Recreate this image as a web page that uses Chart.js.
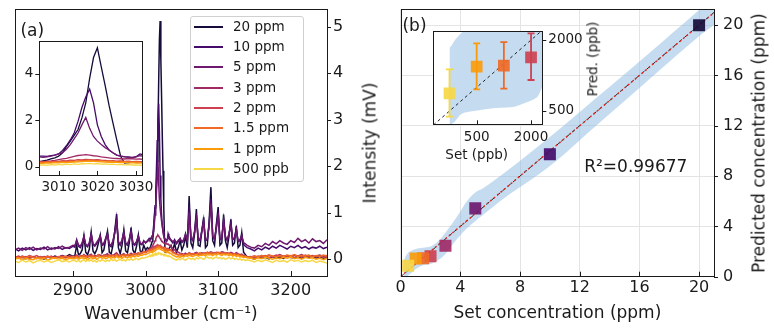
<!DOCTYPE html>
<html><head><meta charset="utf-8">
<script src="https://cdn.jsdelivr.net/npm/chart.js@4.4.1/dist/chart.umd.min.js"></script>
<style>
body{margin:0;background:#fff;}
#wrap{position:relative;width:774px;height:332px;overflow:hidden;font-family:'DejaVu Sans',sans-serif;color:#1a1a1a;background:#fff;}
canvas{position:absolute;}
.t{position:absolute;white-space:nowrap;line-height:1;transform:translate(-50%,-50%);}
.rot{transform:translate(-50%,-50%) rotate(-90deg);}
#legend{position:absolute;left:190px;top:16px;width:112px;height:164px;border:1px solid #d0d0d0;border-radius:3px;background:rgba(255,255,255,0.85);}
.lrow{position:absolute;left:0;height:0;width:100%;}
.lline{position:absolute;left:3px;top:-1px;width:29px;height:2px;}
.ltxt{position:absolute;left:42px;top:0;transform:translateY(-50%);font-size:13.5px;line-height:1;white-space:nowrap;}
</style></head><body><div id="wrap">
<canvas id="cA" width="380" height="332" style="left:0;top:0"></canvas>
<canvas id="cB" width="394" height="332" style="left:380px;top:0"></canvas>
<canvas id="cAi" width="141" height="170" style="left:14px;top:30px"></canvas>
<canvas id="cBi" width="160" height="150" style="left:425px;top:20px"></canvas>
<div id="legend"></div>
<div class="t" style="left:32.3px;top:30px;font-size:17px">(a)</div>
<div class="t" style="left:414.5px;top:25px;font-size:17px">(b)</div>
<div class="t rot" style="left:370px;top:143px;font-size:17px">Intensity (mV)</div>
<div class="t rot" style="left:758.5px;top:143px;font-size:17px">Predicted concentration (ppm)</div>
<div class="t" style="left:635.8px;top:166px;font-size:17px">R²=0.99677</div>
<div class="t" style="left:476.7px;top:155px;font-size:13.5px">Set (ppb)</div>
<div class="t rot" style="left:593.3px;top:58.5px;font-size:13.5px">Pred. (ppb)</div>
</div>
<script>
// ---------- DATA ----------
const seriesLabels = ['20 ppm','10 ppm','5 ppm','3 ppm','2 ppm','1.5 ppm','1 ppm','500 ppb'];
const seriesColors = ['#160b39','#440b6a','#6e196e','#a02a66','#cd4150','#ee6a25','#fb9b0a','#f6d746'];

const wavenumber = [
 2820,2825,2830,2835,2840,2845,2850,2855,2860,2865,2870,2875,2880,2885,2890,2895,2900,
 2902.5,2905,2907.5,2910,2912.5,2915,2917.5,2920,2922.5,2925,2927.5,2930,2932.5,2935,2937.5,2940,2942.5,2945,2947.5,2950,2952.5,2955,2957.5,2960,2962.5,2965,2967.5,2970,2972.5,2975,2977.5,2980,2982.5,2985,2987.5,2990,2992.5,2995,2997.5,3000,3002.5,3005,
 3006,3007,3008,3009,3010,3011,3012,3013,3014,3015,3016,3017,3018,3019,3020,3021,3022,3023,3024,3025,3026,3027,3028,3029,3030,3031,3032,
 3035,3037.5,3040,3042.5,3045,3047.5,3050,3052.5,3055,3057.5,3060,3062.5,3065,3067.5,3070,3072.5,3075,3077.5,3080,3082.5,3085,3087.5,3090,3092.5,3095,3097.5,3100,3102.5,3105,3107.5,3110,3112.5,3115,3117.5,3120,3122.5,3125,3127.5,3130,3132.5,3135,3137.5,3140,
 3145,3150,3155,3160,3165,3170,3175,3180,3185,3190,3195,3200,3205,3210,3215,3220,3225,3230,3235,3240,3245,3250];

const int20ppm = [
 0.04,0.02,0.05,0.01,0.03,0.06,0.02,0.04,0.0,0.05,0.03,0.07,0.04,0.08,0.05,0.1,0.06,
 0.08,0.3,0.1,0.12,0.2,0.5,0.15,0.1,0.22,0.58,0.18,0.12,0.2,0.35,0.52,0.14,0.2,0.42,0.6,0.15,0.12,0.3,0.6,0.97,0.25,0.12,0.3,0.62,0.18,0.14,0.35,0.68,0.2,0.12,0.28,0.52,0.18,0.15,0.3,0.2,0.25,0.22,
 0.25,0.28,0.33,0.38,0.45,0.6,0.86,1.1,1.35,1.6,2.1,2.75,3.8,4.7,5.12,4.3,3.5,2.65,1.9,1.15,0.45,0.15,0.17,0.2,0.22,0.2,0.22,
 0.3,0.18,0.35,0.15,0.25,0.4,0.2,0.3,0.5,0.25,1.36,0.35,0.25,0.55,1.08,0.3,0.28,0.6,0.9,0.25,0.3,0.8,1.55,0.4,0.3,0.75,1.12,0.3,0.35,0.96,0.4,0.25,0.5,0.86,0.3,0.35,0.72,0.25,0.3,0.57,0.15,0.1,0.05,
 0.03,0.0,0.05,0.02,0.04,0.01,0.06,0.03,0.05,0.02,0.07,0.04,0.03,0.06,0.02,0.05,0.04,0.07,0.03,0.06,0.02,0.04];
const int10ppm = [
 0.22,0.18,0.24,0.2,0.25,0.19,0.23,0.21,0.26,0.2,0.24,0.22,0.27,0.21,0.25,0.23,0.28,
 0.26,0.42,0.28,0.25,0.33,0.5,0.3,0.27,0.36,0.55,0.32,0.28,0.33,0.4,0.5,0.3,0.32,0.45,0.56,0.3,0.27,0.38,0.6,0.88,0.36,0.3,0.4,0.6,0.33,0.3,0.42,0.62,0.34,0.3,0.38,0.5,0.33,0.31,0.4,0.35,0.4,0.45,
 0.45,0.44,0.47,0.5,0.55,0.7,0.9,1.15,1.45,1.95,2.55,3.0,3.34,2.75,1.8,1.3,0.95,0.72,0.6,0.5,0.45,0.43,0.42,0.4,0.43,0.55,0.5,
 0.4,0.35,0.42,0.33,0.38,0.45,0.36,0.4,0.55,0.38,1.15,0.45,0.4,0.6,0.95,0.42,0.4,0.62,0.85,0.4,0.42,0.75,1.3,0.5,0.42,0.7,1.0,0.42,0.45,0.85,0.48,0.4,0.55,0.78,0.42,0.45,0.66,0.38,0.4,0.52,0.32,0.28,0.25,
 0.22,0.18,0.24,0.2,0.26,0.22,0.28,0.24,0.3,0.26,0.22,0.28,0.25,0.3,0.24,0.27,0.22,0.26,0.24,0.28,0.23,0.26];
const int5ppm = [
 0.2,0.24,0.19,0.25,0.21,0.26,0.2,0.24,0.22,0.27,0.21,0.25,0.23,0.28,0.24,0.26,0.3,
 0.29,0.4,0.31,0.28,0.35,0.48,0.32,0.29,0.35,0.52,0.34,0.3,0.36,0.42,0.48,0.31,0.35,0.44,0.52,0.33,0.3,0.4,0.55,0.78,0.38,0.32,0.42,0.56,0.35,0.32,0.43,0.58,0.36,0.32,0.38,0.48,0.35,0.33,0.38,0.36,0.38,0.42,
 0.4,0.42,0.45,0.5,0.55,0.6,0.75,0.95,1.2,1.45,1.8,2.12,1.65,1.3,1.1,0.95,0.82,0.72,0.6,0.5,0.45,0.42,0.4,0.38,0.42,0.47,0.45,
 0.42,0.38,0.4,0.36,0.41,0.44,0.38,0.42,0.52,0.4,1.0,0.46,0.42,0.58,0.88,0.44,0.42,0.6,0.8,0.42,0.44,0.7,1.2,0.5,0.44,0.66,0.92,0.44,0.46,0.8,0.48,0.42,0.55,0.72,0.44,0.46,0.62,0.4,0.42,0.5,0.36,0.33,0.3,
 0.26,0.24,0.3,0.27,0.34,0.3,0.38,0.33,0.4,0.35,0.32,0.4,0.36,0.45,0.38,0.42,0.35,0.44,0.38,0.4,0.34,0.42];
const int3ppm = [
 0.06,0.03,0.07,0.04,0.08,0.05,0.02,0.06,0.04,0.07,0.03,0.06,0.05,0.08,0.04,0.07,0.06,
 0.07,0.09,0.05,0.08,0.06,0.1,0.07,0.05,0.09,0.11,0.06,0.08,0.07,0.1,0.09,0.06,0.08,0.1,0.12,0.07,0.09,0.08,0.11,0.14,0.09,0.07,0.1,0.12,0.08,0.1,0.09,0.13,0.1,0.11,0.12,0.14,0.12,0.15,0.17,0.16,0.19,0.22,
 0.22,0.24,0.25,0.27,0.3,0.33,0.36,0.4,0.44,0.48,0.5,0.52,0.5,0.47,0.45,0.42,0.4,0.38,0.36,0.35,0.34,0.33,0.35,0.34,0.32,0.33,0.31,
 0.28,0.22,0.2,0.17,0.15,0.13,0.12,0.11,0.13,0.1,0.14,0.12,0.1,0.13,0.15,0.12,0.11,0.14,0.13,0.12,0.15,0.13,0.16,0.14,0.12,0.15,0.14,0.13,0.16,0.15,0.13,0.14,0.12,0.15,0.13,0.11,0.14,0.12,0.1,0.11,0.08,0.07,0.06,
 0.05,0.07,0.04,0.08,0.06,0.09,0.05,0.07,0.1,0.06,0.08,0.05,0.09,0.07,0.1,0.06,0.08,0.05,0.07,0.09,0.06,0.08];
const int2ppm = [
 0.04,0.07,0.03,0.06,0.02,0.05,0.08,0.03,0.06,0.04,0.07,0.02,0.05,0.06,0.03,0.07,0.05,
 0.05,0.07,0.04,0.06,0.08,0.05,0.07,0.04,0.06,0.09,0.05,0.07,0.06,0.08,0.05,0.07,0.09,0.06,0.08,0.05,0.07,0.09,0.06,0.1,0.07,0.05,0.08,0.1,0.07,0.09,0.06,0.1,0.08,0.11,0.09,0.12,0.1,0.13,0.15,0.14,0.17,0.2,
 0.2,0.22,0.21,0.24,0.23,0.26,0.25,0.28,0.27,0.3,0.29,0.31,0.3,0.29,0.3,0.28,0.27,0.25,0.26,0.24,0.25,0.23,0.24,0.22,0.23,0.21,0.22,
 0.2,0.16,0.14,0.12,0.1,0.09,0.11,0.08,0.1,0.12,0.11,0.09,0.12,0.1,0.13,0.11,0.12,0.1,0.13,0.14,0.12,0.15,0.13,0.11,0.14,0.12,0.15,0.13,0.12,0.14,0.11,0.13,0.12,0.1,0.12,0.11,0.09,0.1,0.08,0.09,0.07,0.06,0.05,
 0.06,0.04,0.07,0.05,0.08,0.04,0.06,0.09,0.05,0.07,0.06,0.08,0.04,0.07,0.05,0.09,0.06,0.08,0.05,0.07,0.04,0.06];
const int1p5ppm = [
 0.05,0.02,0.06,0.03,0.07,0.04,0.01,0.05,0.03,0.06,0.04,0.02,0.06,0.04,0.07,0.03,0.06,
 0.04,0.06,0.03,0.07,0.05,0.08,0.04,0.06,0.07,0.05,0.08,0.04,0.06,0.09,0.05,0.07,0.06,0.08,0.05,0.09,0.06,0.08,0.07,0.1,0.06,0.08,0.09,0.07,0.1,0.08,0.11,0.09,0.1,0.12,0.1,0.13,0.11,0.14,0.16,0.15,0.17,0.19,
 0.18,0.2,0.19,0.21,0.2,0.23,0.22,0.24,0.23,0.25,0.26,0.27,0.28,0.26,0.27,0.25,0.24,0.25,0.23,0.22,0.24,0.21,0.22,0.2,0.21,0.19,0.2,
 0.18,0.14,0.12,0.1,0.09,0.11,0.08,0.1,0.09,0.11,0.13,0.1,0.12,0.11,0.09,0.12,0.14,0.11,0.13,0.12,0.15,0.12,0.14,0.13,0.11,0.14,0.12,0.15,0.13,0.12,0.14,0.11,0.13,0.12,0.1,0.12,0.09,0.11,0.08,0.09,0.06,0.07,0.05,
 0.04,0.07,0.05,0.08,0.06,0.09,0.07,0.05,0.08,0.06,0.09,0.07,0.1,0.06,0.08,0.07,0.09,0.05,0.08,0.06,0.09,0.07];
const int1ppm = [
 0.0,0.03,-0.02,0.02,0.0,-0.01,0.03,0.0,0.02,-0.02,0.01,0.03,0.0,0.02,-0.01,0.02,0.01,
 0.01,0.03,0.0,0.02,0.04,0.01,0.03,-0.01,0.02,0.04,0.01,0.03,0.0,0.03,0.05,0.02,0.04,0.01,0.03,0.05,0.02,0.04,0.03,0.06,0.03,0.05,0.02,0.06,0.04,0.03,0.06,0.04,0.07,0.05,0.08,0.06,0.09,0.08,0.11,0.1,0.12,0.14,
 0.14,0.16,0.15,0.17,0.16,0.18,0.17,0.19,0.2,0.21,0.22,0.23,0.24,0.23,0.22,0.21,0.2,0.19,0.2,0.18,0.17,0.18,0.16,0.17,0.15,0.16,0.14,
 0.12,0.09,0.07,0.05,0.06,0.04,0.07,0.05,0.08,0.06,0.09,0.07,0.06,0.08,0.1,0.07,0.09,0.08,0.1,0.07,0.11,0.09,0.1,0.08,0.11,0.09,0.12,0.1,0.08,0.11,0.09,0.1,0.08,0.1,0.07,0.09,0.06,0.08,0.05,0.06,0.04,0.05,0.03,
 0.02,0.0,0.03,0.01,0.04,0.02,0.0,0.03,0.01,0.04,0.02,0.05,0.01,0.03,0.0,0.04,0.02,0.03,0.0,0.02,-0.01,0.02];
const int500ppb = [
 -0.04,-0.07,-0.02,-0.06,-0.03,-0.08,-0.04,-0.02,-0.06,-0.03,-0.07,-0.04,-0.01,-0.05,-0.03,-0.06,-0.02,
 -0.03,-0.05,-0.02,-0.06,-0.03,-0.01,-0.05,-0.02,-0.04,-0.01,-0.05,-0.03,-0.06,-0.02,-0.04,-0.01,-0.03,-0.05,-0.02,-0.04,0.0,-0.03,-0.01,-0.04,-0.02,0.0,-0.03,-0.01,-0.04,0.0,-0.02,0.01,-0.02,0.0,0.02,-0.01,0.01,0.03,0.02,0.04,0.05,0.07,
 0.08,0.06,0.09,0.07,0.1,0.08,0.11,0.09,0.12,0.1,0.13,0.12,0.14,0.12,0.13,0.11,0.12,0.1,0.11,0.09,0.1,0.08,0.09,0.07,0.08,0.06,0.07,
 0.05,0.02,0.0,-0.02,0.01,-0.01,0.02,0.0,-0.02,0.01,0.03,0.0,0.02,-0.01,0.03,0.01,0.04,0.02,0.0,0.03,0.05,0.02,0.04,0.01,0.03,0.05,0.02,0.04,0.01,0.03,0.0,0.02,0.04,0.01,0.03,0.0,0.02,-0.01,0.01,-0.02,0.0,-0.03,-0.01,
 -0.03,-0.06,-0.02,-0.05,-0.01,-0.04,-0.07,-0.02,-0.05,-0.03,-0.06,-0.01,-0.04,-0.02,-0.06,-0.03,-0.05,-0.02,-0.07,-0.04,-0.06,-0.08];
const spectra = [int20ppm, int10ppm, int5ppm, int3ppm, int2ppm, int1p5ppm, int1ppm, int500ppb];

const wnTicks = [2900, 3000, 3100, 3200];
const intensityTicks = [0, 1, 2, 3, 4, 5];
const insetWnTicks = [3010, 3020, 3030];
const insetIntTicks = [0, 2, 4];

// panel (b)
const setConc = [20, 10, 5, 3, 2, 1.5, 1, 0.5];          // ppm
const predConc = [19.98, 9.74, 5.43, 2.46, 1.63, 1.46, 1.44, 0.87];
const bandX  = [0.2, 0.5, 1.0, 1.5, 2.0, 2.5, 3.0, 3.5, 4.0, 4.5, 5.0, 5.5, 7.0, 10.0, 13.0, 16.0, 20.0, 21.0];
const bandHi = [1.3, 1.9, 2.2, 2.3, 2.4, 2.8, 3.5, 4.3, 5.2, 6.1, 6.7, 7.0, 8.3, 11.1, 14.1, 17.1, 21.2, 22.2];
const bandLo = [0.0, 0.1, 0.6, 0.9, 1.0, 1.3, 1.8, 2.6, 3.3, 3.9, 4.4, 4.9, 6.3, 8.8, 11.9, 15.0, 19.1, 20.0];
const identityX = [0, 21], identityY = [0, 21];
const fitX = [0, 21], fitY = [0.02, 20.98];
const concTicks = [0, 4, 8, 12, 16, 20];

const insetSet = [500, 1000, 1500, 2000];                // ppb
const insetPred = [874, 1436, 1457, 1634];
const insetPredLo = [380, 958, 971, 1155];
const insetPredHi = [1381, 1930, 1957, 2141];
const insetColorIdx = [7, 6, 5, 4];
const insetBandX  = [500, 530, 600, 700, 760, 1000, 1300, 1700, 2000, 2120, 2207];
const insetBandHi = [1840, 1870, 2000, 2130, 2190, 2190, 2190, 2190, 2190, 2190, 2190];
const insetBandLo = [219, 219, 280, 420, 460, 510, 560, 591, 720, 802, 1013];
const insetIdX = [202, 2190], insetIdY = [202, 2190];
const insetSetTicks = [1000, 2000];
const insetSetTickLabels = ['500', '2000'];
const insetPredTicks = [500, 2000];

// ---------- RENDER ----------
const FONT = "'DejaVu Sans', sans-serif";
const INK = '#1a1a1a';

const leg = document.getElementById('legend');
seriesLabels.forEach((lab, i) => {
  const row = document.createElement('div');
  row.className = 'lrow';
  row.style.top = (9.7 + i * 20.3) + 'px';
  row.innerHTML = '<span class="lline" style="background:' + seriesColors[i] + '"></span><span class="ltxt">' + lab + '</span>';
  leg.appendChild(row);
});

const frameCfg = {
  cA:  {bg: null,   marks: [['x', 'in', 5], ['y', 'out', 4]]},
  cAi: {bg: '#fff', marks: [['x', 'in', 4], ['y', 'out', 4]]},
  cB:  {bg: null,   marks: [['x', 'in', 5], ['y', 'out', 4]]},
  cBi: {bg: '#fff', marks: [['x', 'in', 4], ['y', 'out', 4]]}
};
const framePlugin = {
  id: 'frame',
  beforeDraw(chart) {
    const f = frameCfg[chart.canvas.id];
    if (f && f.bg) {
      const a = chart.chartArea, c = chart.ctx;
      c.save(); c.fillStyle = f.bg; c.fillRect(a.left, a.top, a.right - a.left, a.bottom - a.top); c.restore();
    }
  },
  afterDraw(chart) {
    const f = frameCfg[chart.canvas.id]; if (!f) return;
    const a = chart.chartArea, c = chart.ctx;
    c.save(); c.strokeStyle = INK; c.lineWidth = 1;
    c.strokeRect(Math.round(a.left) + 0.5, Math.round(a.top) + 0.5, Math.round(a.right - a.left), Math.round(a.bottom - a.top));
    f.marks.forEach(([id, dir, len]) => {
      const s = chart.scales[id];
      s.ticks.forEach(t => {
        const p = Math.round(s.getPixelForValue(t.value)) + 0.5;
        c.beginPath();
        if (s.isHorizontal()) {
          const y0 = a.bottom; c.moveTo(p, y0); c.lineTo(p, dir === 'out' ? y0 + len : y0 - len);
        } else {
          const right = s.position === 'right';
          const x0 = right ? a.right : a.left;
          const sg = (right ? 1 : -1) * (dir === 'out' ? 1 : -1);
          c.moveTo(x0, p); c.lineTo(x0 + sg * len, p);
        }
        c.stroke();
      });
    });
    c.restore();
  }
};
const errPlugin = {
  id: 'errbars',
  beforeDatasetDraw(chart, args) {
    if (chart.canvas.id !== 'cBi' || args.index !== 3) return;
    const c = chart.ctx, xs = chart.scales.x, ys = chart.scales.y, a = chart.chartArea;
    c.save();
    c.beginPath(); c.rect(a.left, a.top, a.right - a.left, a.bottom - a.top); c.clip();
    insetSet.forEach((v, i) => {
      const x = xs.getPixelForValue(v), y1 = ys.getPixelForValue(insetPredLo[i]), y2 = ys.getPixelForValue(insetPredHi[i]);
      c.strokeStyle = seriesColors[insetColorIdx[i]]; c.lineWidth = 1.8;
      c.beginPath(); c.moveTo(x, y1); c.lineTo(x, y2);
      c.moveTo(x - 3.5, y1); c.lineTo(x + 3.5, y1);
      c.moveTo(x - 3.5, y2); c.lineTo(x + 3.5, y2);
      c.stroke();
    });
    c.restore();
  }
};

function fixedTicks(arr) { return s => { s.ticks = arr.map(v => ({value: v})); }; }
function fitBox(w, h) {
  return s => {
    if (w !== null) s.width = w;
    if (h !== null) s.height = h;
    s.paddingLeft = 0; s.paddingRight = 0; s.paddingTop = 0; s.paddingBottom = 0;
  };
}
function tickFont(size) { return {family: FONT, size: size}; }
const noGrid = {display: false, drawTicks: false};
const base = {responsive: false, animation: false, events: [], plugins: {legend: {display: false}, tooltip: {enabled: false}}};

function specDatasets(lw) {
  return spectra.map((vals, i) => ({
    label: seriesLabels[i],
    data: wavenumber.map((w, k) => ({x: w, y: vals[k]})),
    showLine: true, borderColor: seriesColors[i], borderWidth: lw, pointRadius: 0,
    order: spectra.length - i, tension: 0
  }));
}

new Chart(document.getElementById('cA'), {
  type: 'scatter',
  data: {datasets: specDatasets(1.5)},
  options: Object.assign({}, base, {
    layout: {padding: {left: 15, top: 9, right: 0, bottom: 0}},
    scales: {
      x: {type: 'linear', min: 2820, max: 3250, afterBuildTicks: fixedTicks(wnTicks), afterFit: fitBox(null, 56),
          grid: noGrid, border: {display: false},
          ticks: {font: tickFont(16), color: INK, padding: 5, callback: v => String(v)},
          title: {display: true, text: 'Wavenumber (cm⁻¹)', font: {family: FONT, size: 17}, color: INK, padding: {top: 0, bottom: 7}}},
      y: {type: 'linear', position: 'right', min: -0.36, max: 5.38, afterBuildTicks: fixedTicks(intensityTicks), afterFit: fitBox(53, null),
          grid: noGrid, border: {display: false},
          ticks: {font: tickFont(16), color: INK, padding: 6, callback: v => String(v)}}
    }
  }),
  plugins: [framePlugin]
});

new Chart(document.getElementById('cAi'), {
  type: 'scatter',
  data: {datasets: specDatasets(1.3)},
  options: Object.assign({}, base, {
    layout: {padding: {left: 0, top: 11.3, right: 12.3, bottom: 0}},
    scales: {
      x: {type: 'linear', min: 3005, max: 3031.7, afterBuildTicks: fixedTicks(insetWnTicks), afterFit: fitBox(null, 25),
          grid: noGrid, border: {display: false},
          ticks: {font: tickFont(13.5), color: INK, padding: 4, callback: v => String(v)}},
      y: {type: 'linear', position: 'left', min: -0.36, max: 5.4, afterBuildTicks: fixedTicks(insetIntTicks), afterFit: fitBox(25.3, null),
          grid: noGrid, border: {display: false},
          ticks: {font: tickFont(13.5), color: INK, padding: 6, callback: v => String(v)}}
    }
  }),
  plugins: [framePlugin]
});

new Chart(document.getElementById('cB'), {
  type: 'scatter',
  data: {datasets: [
    {data: bandX.map((x, i) => ({x: x, y: bandLo[i]})), showLine: true, borderWidth: 0, borderColor: 'rgba(0,0,0,0)', pointRadius: 0, fill: false, tension: 0.35, order: 10},
    {data: bandX.map((x, i) => ({x: x, y: bandHi[i]})), showLine: true, borderWidth: 0, borderColor: 'rgba(0,0,0,0)', pointRadius: 0, fill: '-1', backgroundColor: 'rgba(140,185,225,0.5)', tension: 0.35, order: 9},
    {data: identityX.map((x, i) => ({x: x, y: identityY[i]})), showLine: true, borderColor: '#222', borderWidth: 1, borderDash: [4, 3], pointRadius: 0, order: 5},
    {data: fitX.map((x, i) => ({x: x, y: fitY[i]})), showLine: true, borderColor: '#e3261f', borderWidth: 1.4, borderDash: [2, 2.5], pointRadius: 0, order: 4},
    {data: setConc.map((x, i) => ({x: x, y: predConc[i]})), pointStyle: 'rect', pointRadius: 8.5, borderWidth: 0,
     backgroundColor: seriesColors.map(c => c + 'e8'), order: 1}
  ]},
  options: Object.assign({}, base, {
    layout: {padding: {left: 20.7, top: 9.3, right: 0, bottom: 0}},
    scales: {
      x: {type: 'linear', min: 0, max: 21, afterBuildTicks: fixedTicks(concTicks), afterFit: fitBox(null, 55.3),
          grid: {color: '#e4e4e4', drawTicks: false}, border: {display: false},
          ticks: {font: tickFont(16), color: INK, padding: 1.5, callback: v => String(v)},
          title: {display: true, text: 'Set concentration (ppm)', font: {family: FONT, size: 17}, color: INK, padding: {top: 0, bottom: 8.5}}},
      y: {type: 'linear', position: 'right', min: 0, max: 21.25, afterBuildTicks: fixedTicks(concTicks), afterFit: fitBox(60, null),
          grid: {color: '#e4e4e4', drawTicks: false}, border: {display: false},
          ticks: {font: tickFont(16), color: INK, padding: 9, callback: v => String(v)}}
    }
  }),
  plugins: [framePlugin]
});

new Chart(document.getElementById('cBi'), {
  type: 'scatter',
  data: {datasets: [
    {data: insetBandX.map((x, i) => ({x: x, y: insetBandLo[i]})), showLine: true, borderWidth: 0, borderColor: 'rgba(0,0,0,0)', pointRadius: 0, fill: false, tension: 0.2, order: 10, clip: 0},
    {data: insetBandX.map((x, i) => ({x: x, y: insetBandHi[i]})), showLine: true, borderWidth: 0, borderColor: 'rgba(0,0,0,0)', pointRadius: 0, fill: '-1', backgroundColor: 'rgba(140,185,225,0.5)', tension: 0, order: 9, clip: 0},
    {data: insetIdX.map((x, i) => ({x: x, y: insetIdY[i]})), showLine: true, borderColor: '#222', borderWidth: 1, borderDash: [3, 3], pointRadius: 0, order: 5},
    {data: insetSet.map((x, i) => ({x: x, y: insetPred[i]})), pointStyle: 'rect', pointRadius: 8.3, borderWidth: 0,
     backgroundColor: insetColorIdx.map(k => seriesColors[k] + 'e8'), order: 1}
  ]},
  options: Object.assign({}, base, {
    layout: {padding: {left: 7.1, top: 11, right: 0, bottom: 0}},
    scales: {
      x: {type: 'linear', min: 202, max: 2207, afterBuildTicks: fixedTicks(insetSetTicks), afterFit: fitBox(null, 45.7),
          grid: noGrid, border: {display: false},
          ticks: {font: tickFont(13.5), color: INK, padding: 5, callback: (v, i) => insetSetTickLabels[i]}},
      y: {type: 'linear', position: 'right', min: 219, max: 2190, afterBuildTicks: fixedTicks(insetPredTicks), afterFit: fitBox(42.7, null),
          grid: noGrid, border: {display: false},
          ticks: {font: tickFont(13.5), color: INK, padding: 6, callback: v => String(v)}}
    }
  }),
  plugins: [framePlugin, errPlugin]
});
</script>
</body></html>
